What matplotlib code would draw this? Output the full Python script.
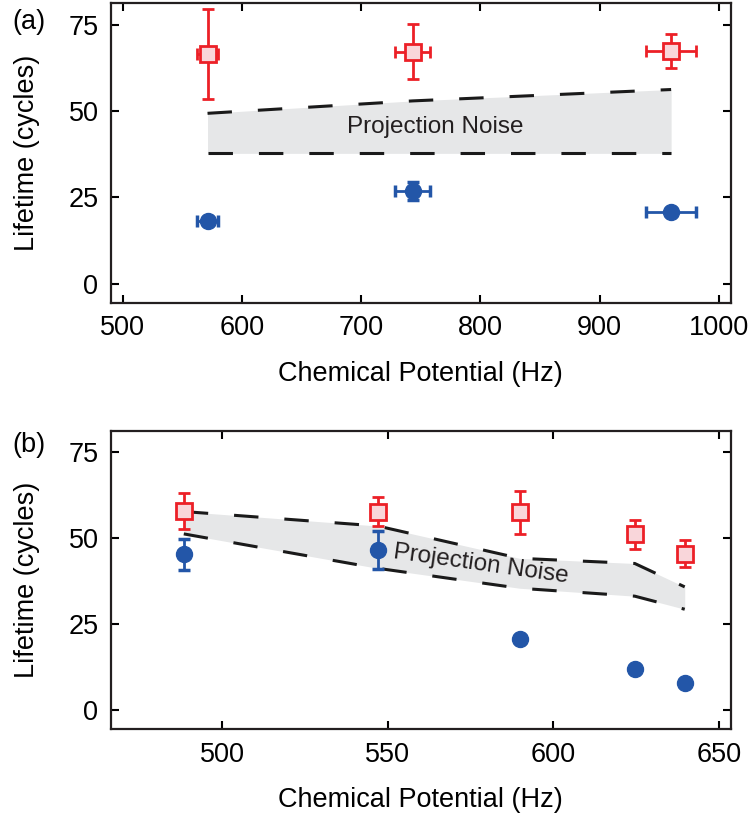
import numpy as np
import matplotlib
matplotlib.use('Agg')
import matplotlib.pyplot as plt

plt.rcParams['font.family'] = ['Liberation Sans', 'DejaVu Sans']

RED = '#ec2027'
PINK = '#f9d6da'
BLUE = '#2356a8'
GRAY = '#e6e7e8'

# panel (a)
mu_a = [571, 743, 960]
mu_a_err = [9, 15, 21]
red_a = [66.6, 67.3, 67.4]
red_a_err = [13.0, 8.0, 5.0]
blue_a = [18.1, 26.9, 20.9]
blue_a_err = [1.2, 2.7, 1.0]
pn_a_hi = [49.4, 53.0, 56.3]
pn_a_lo = [37.8, 37.8, 37.8]

# panel (b)
mu_b = [488.3, 546.9, 589.8, 624.6, 639.7]
red_b = [57.9, 57.8, 57.6, 51.2, 45.6]
red_b_err = [5.3, 4.2, 6.3, 4.2, 4.0]
blue_b = [45.4, 46.6, 20.7, 11.9, 8.1]
blue_b_err = [4.5, 5.4, 0.8, 0.8, 0.8]
pn_b_hi = [57.8, 53.6, 44.2, 42.7, 35.9]
pn_b_lo = [51.3, 41.3, 35.5, 33.2, 29.4]

FS = 19.5


def style_axes(ax, xticks, xlim):
    ax.set_xlim(*xlim)
    ax.set_ylim(-5.5, 81.3)
    ax.set_xticks(xticks)
    ax.set_yticks([0, 25, 50, 75])
    ax.tick_params(direction='in', top=True, right=True, length=6, width=1.5,
                   labelsize=FS, pad=9)
    for s in ax.spines.values():
        s.set_linewidth(1.6)
        s.set_color('#231f20')
    ax.set_xlabel('Chemical Potential (Hz)', fontsize=FS, labelpad=14)
    ax.set_ylabel('Lifetime (cycles)', fontsize=FS)
    ax.yaxis.set_label_coords(-0.115, 0.5)


def draw_band(ax, x, lo, hi):
    ax.fill_between(x, lo, hi, color=GRAY, lw=0, zorder=1)
    ax.plot(x, hi, color='#1a1a1a', lw=2.2, ls=(0, (8, 8.5)), zorder=2)
    ax.plot(x, lo, color='#1a1a1a', lw=2.2, ls=(0, (8, 8.5)), zorder=2)


fig = plt.figure(figsize=(7.53, 8.21), dpi=100)
ax1 = fig.add_axes([0.1474, 0.6313, 0.823, 0.3647])
ax2 = fig.add_axes([0.1474, 0.1117, 0.823, 0.3637])

# (a)
draw_band(ax1, mu_a, pn_a_lo, pn_a_hi)
ax1.text(762, 45.3, 'Projection Noise', fontsize=17.5, ha='center', va='center',
         color='#231f20', zorder=3)
ax1.errorbar(mu_a, red_a, yerr=red_a_err, xerr=mu_a_err, fmt='s', ms=11,
             mfc=PINK, mec=RED, mew=2, color=RED, elinewidth=2, capsize=4,
             capthick=2.5, zorder=4)
ax1.errorbar(mu_a, blue_a, yerr=blue_a_err, xerr=mu_a_err, fmt='o', ms=11.5,
             mfc=BLUE, mec=BLUE, color=BLUE, elinewidth=2, capsize=4,
             capthick=2.5, zorder=4)
style_axes(ax1, [500, 600, 700, 800, 900, 1000], (490, 1010))

# (b)
draw_band(ax2, mu_b, pn_b_lo, pn_b_hi)
ax2.text(578, 42.4, 'Projection Noise', fontsize=17.5, ha='center', va='center',
         rotation=-8, color='#231f20', zorder=3)
ax2.errorbar(mu_b, red_b, yerr=red_b_err, fmt='s', ms=11,
             mfc=PINK, mec=RED, mew=2, color=RED, elinewidth=2, capsize=4,
             capthick=2.5, zorder=4)
ax2.errorbar(mu_b, blue_b, yerr=blue_b_err, fmt='o', ms=11.5,
             mfc=BLUE, mec=BLUE, color=BLUE, elinewidth=2, capsize=4,
             capthick=2.5, zorder=4)
style_axes(ax2, [500, 550, 600, 650], (466.3, 653.6))

fig.text(0.017, 1 - 22 / 821, '(a)', fontsize=FS, va='center', ha='left')
fig.text(0.017, 1 - 445 / 821, '(b)', fontsize=FS, va='center', ha='left')

fig.savefig('out.png', dpi=100)
